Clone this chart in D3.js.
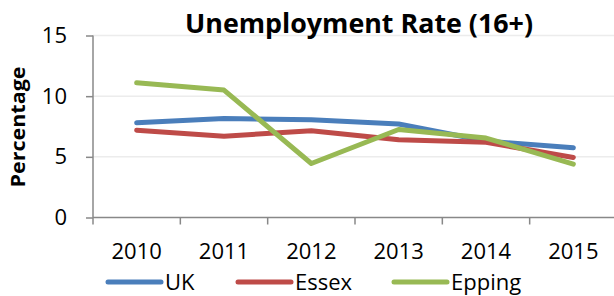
<!DOCTYPE html>
<html><head><meta charset="utf-8">
<script src="https://cdn.jsdelivr.net/npm/d3@7"></script>
<style>body{margin:0;background:#fff}svg{display:block}</style>
</head><body><svg id="c" width="614" height="296"></svg>
<script>
const years = ["2010","2011","2012","2013","2014","2015"];
const ukValues = [7.8, 8.15, 8.05, 7.7, 6.3, 5.75];
const essexValues = [7.2, 6.7, 7.15, 6.4, 6.2, 4.95];
const eppingValues = [11.1, 10.5, 4.45, 7.25, 6.55, 4.4];
const seriesNames = ["UK","Essex","Epping"];
const yTicks = [0,5,10,15];
const colors = ["#4a7ebb","#be4b48","#98b954"];
const series = [ukValues, essexValues, eppingValues];

const svg = d3.select("#c");
const font = "'Open Sans', 'Liberation Sans', sans-serif";
const x = d3.scaleBand().domain(years).range([93, 617]);
const y = d3.scaleLinear().domain([0,15]).range([217.5, 35.5]);

// gridlines
svg.append("g").selectAll("line").data(yTicks.filter(d=>d>0)).join("line")
  .attr("x1",93).attr("x2",614).attr("y1",d=>y(d)).attr("y2",d=>y(d))
  .attr("stroke","#ececec").attr("stroke-width",1.5);

// y axis
const ya = svg.append("g").attr("transform","translate(93,0)")
  .call(d3.axisLeft(y).tickValues(yTicks).tickSize(7).tickPadding(19));
ya.selectAll("path,line").attr("stroke","#888").attr("stroke-width",1.5);
ya.select(".domain").attr("d", `M0,${y(15)}V${y(0)}`);
ya.selectAll("text").attr("font-family",font).attr("font-size",22).attr("fill","#000");

// x axis
const xa = svg.append("g").attr("transform",`translate(0,${y(0)})`)
  .call(d3.axisBottom(x).tickSize(0).tickPadding(26));
xa.select(".domain").attr("stroke","#888").attr("stroke-width",1.5).attr("d","M93,0H614");
xa.selectAll("text").attr("font-family",font).attr("font-size",22).attr("fill","#000");
svg.append("g").selectAll("line").data(years).join("line")
  .attr("x1",d=>x(d)).attr("x2",d=>x(d)).attr("y1",y(0)).attr("y2",y(0)+7)
  .attr("stroke","#888").attr("stroke-width",1.5);

// lines
const line = d3.line().x((d,i)=>x(years[i])+x.bandwidth()/2).y(d=>y(d));
svg.append("g").selectAll("path").data(series).join("path")
  .attr("d",line).attr("fill","none").attr("stroke",(d,i)=>colors[i])
  .attr("stroke-width",5).attr("stroke-linecap","round").attr("stroke-linejoin","round");

// title
svg.append("text").attr("x",359).attr("y",33).attr("text-anchor","middle")
  .attr("font-family",font).attr("font-weight","bold").attr("font-size",26)
  .attr("textLength",348).attr("lengthAdjust","spacingAndGlyphs")
  .text("Unemployment Rate (16+)");

// y label
svg.append("text").attr("transform","translate(25,127) rotate(-90)")
  .attr("text-anchor","middle").attr("font-family",font).attr("font-weight","bold")
  .attr("font-size",20).attr("textLength",121).attr("lengthAdjust","spacingAndGlyphs")
  .text("Percentage");

// legend
const legX = [108, 238, 394];
const leg = svg.append("g").selectAll("g").data(seriesNames).join("g")
  .attr("transform",(d,i)=>`translate(${legX[i]},282)`);
leg.append("line").attr("x1",0).attr("x2",53).attr("y1",0).attr("y2",0)
  .attr("stroke",(d,i)=>colors[i]).attr("stroke-width",5).attr("stroke-linecap","round");
leg.append("text").attr("x",57).attr("y",8).attr("font-family",font).attr("font-size",22)
  .text(d=>d);
</script></body></html>
